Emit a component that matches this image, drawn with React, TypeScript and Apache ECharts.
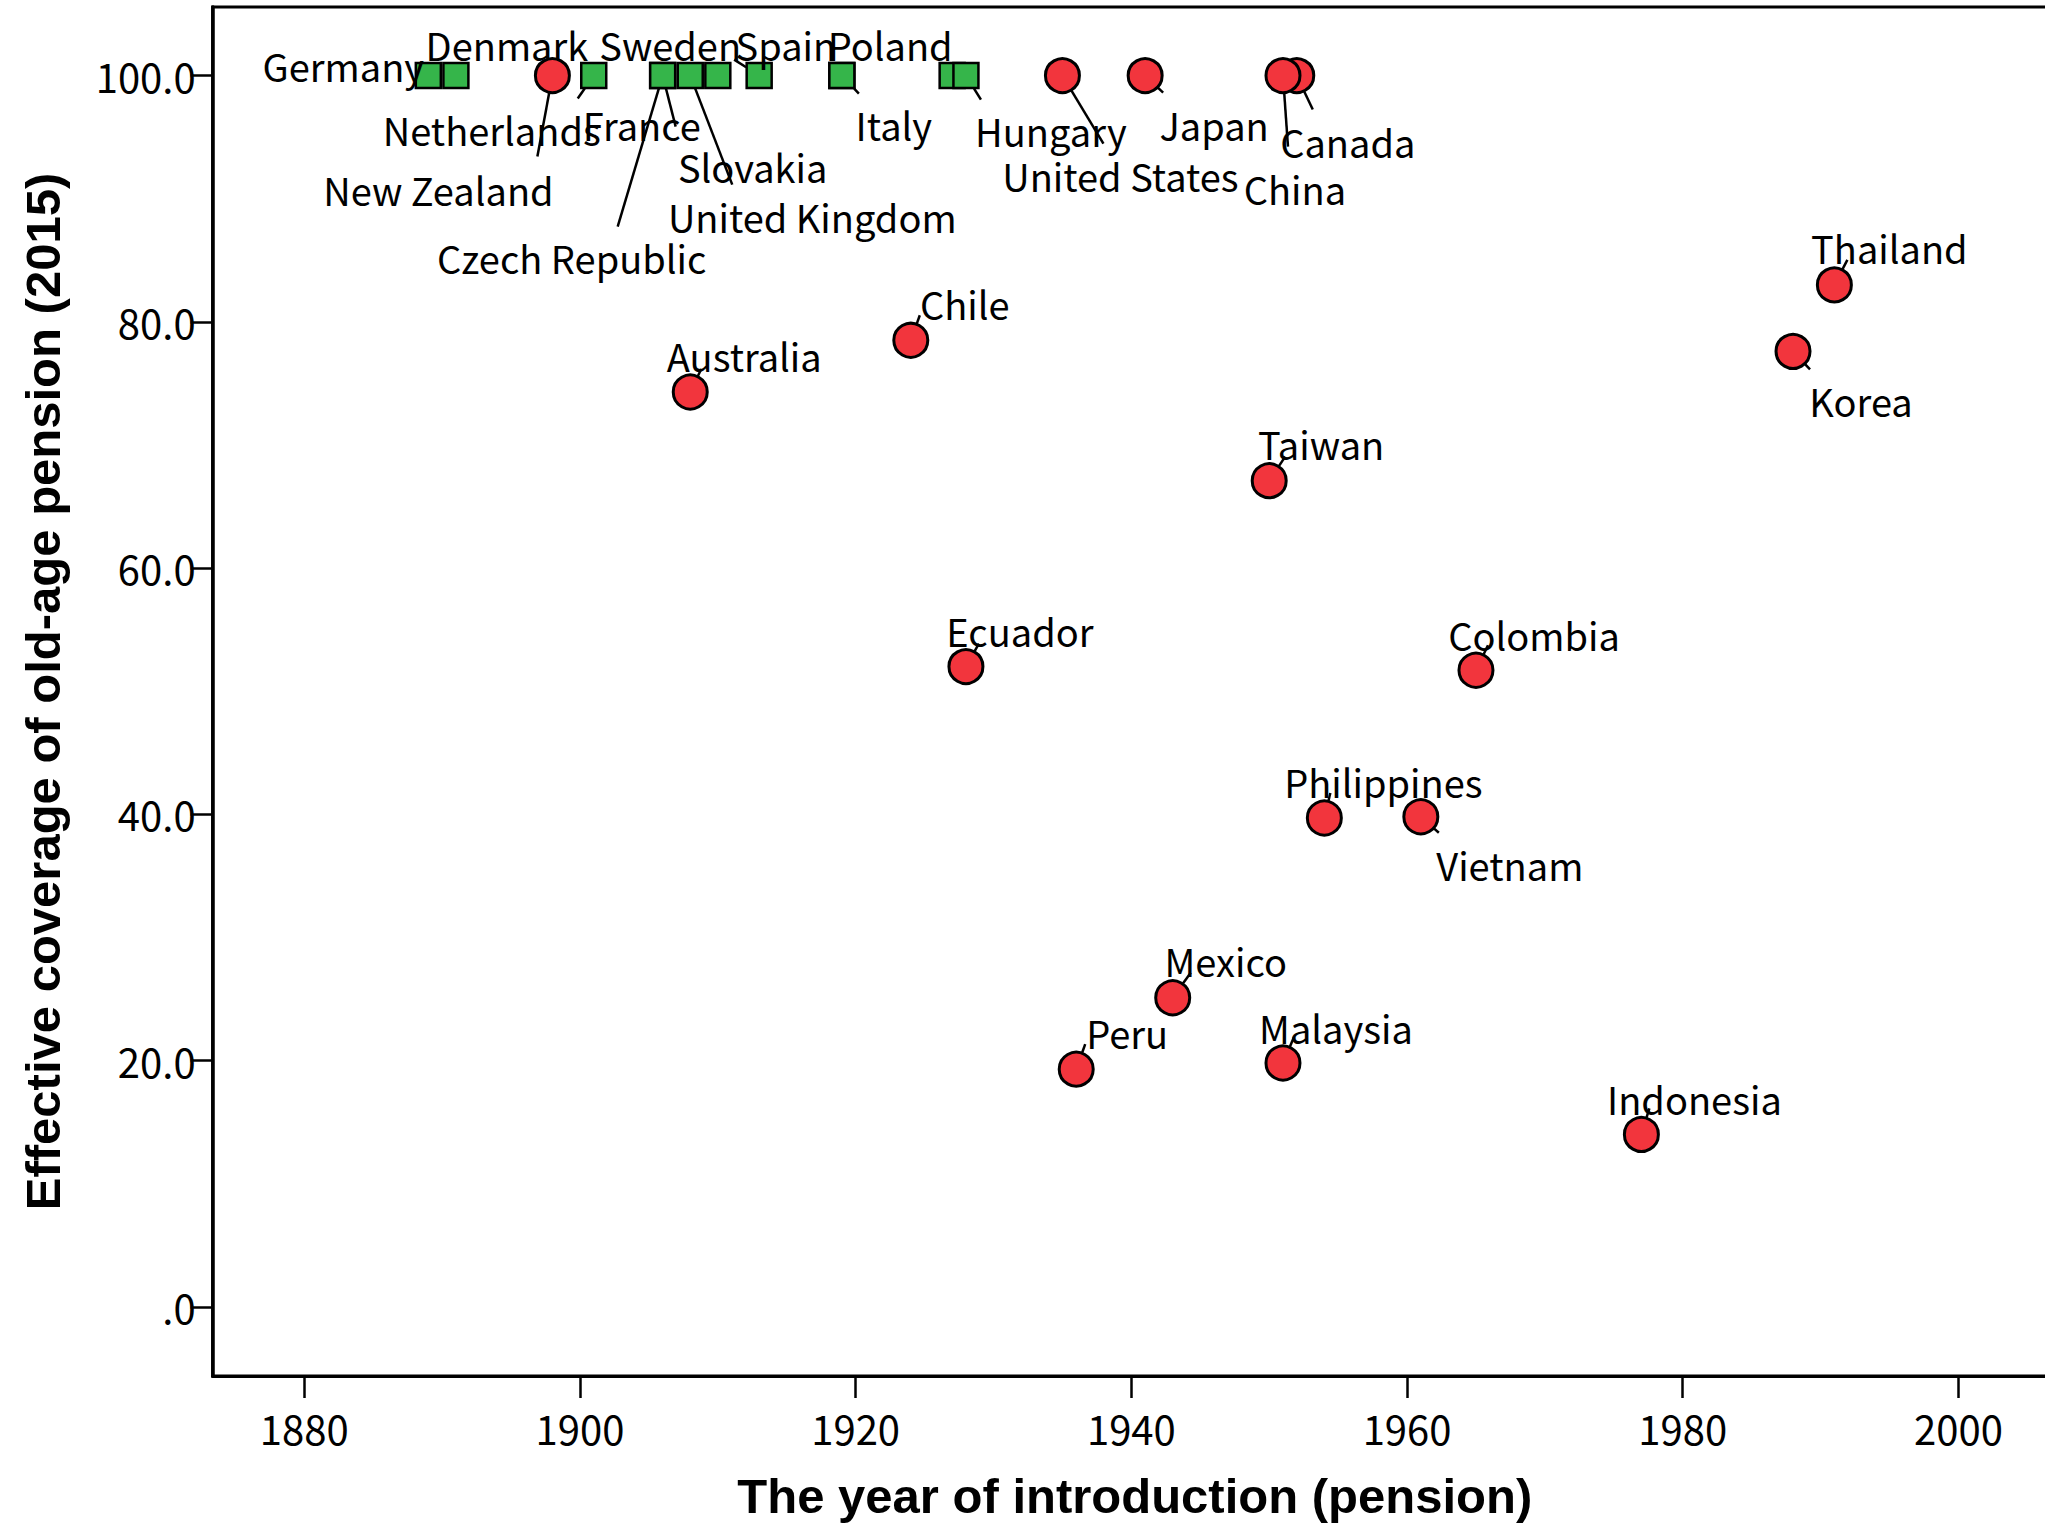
import { useEffect, useRef } from 'react';
import * as echarts from 'echarts';

// ---- Data ----
const SQUARE_COUNTRIES = ['Germany', 'Denmark', 'Netherlands', 'Czech Republic', 'Slovakia', 'United Kingdom', 'France', 'Sweden', 'Spain', 'Italy', 'Poland', 'Hungary'];
const SQUARE_YEARS = [1889, 1891, 1901, 1906, 1906, 1908, 1910, 1913, 1919, 1919, 1927, 1928];
const SQUARE_COVERAGE = [100, 100, 100, 100, 100, 100, 100, 100, 100, 100, 100, 100];

const CIRCLE_COUNTRIES = ['New Zealand', 'United States', 'Japan', 'Canada', 'China', 'Australia', 'Chile', 'Thailand', 'Korea', 'Taiwan', 'Ecuador', 'Colombia', 'Philippines', 'Vietnam', 'Mexico', 'Peru', 'Malaysia', 'Indonesia'];
const CIRCLE_YEARS = [1898, 1935, 1941, 1952, 1951, 1908, 1924, 1991, 1988, 1950, 1928, 1965, 1954, 1961, 1943, 1936, 1951, 1977];
const CIRCLE_COVERAGE = [100, 100, 100, 100, 100, 74.3, 78.5, 83.0, 77.6, 67.1, 52.0, 51.7, 39.7, 39.8, 25.1, 19.3, 19.8, 14.0];

const X_TICKS = [1880, 1900, 1920, 1940, 1960, 1980, 2000];
const Y_TICKS = [0, 20, 40, 60, 80, 100];

// ---- Label placement: pixel offset of label centre from its marker ----
const LABEL_OFFSET: Record<string, [number, number]> = {
  'Germany': [-85, -10],
  'Denmark': [51, -31],
  'Netherlands': [-102, 54],
  'Czech Republic': [-91, 182],
  'Slovakia': [90, 91],
  'United Kingdom': [122, 141],
  'France': [-76, 49],
  'Sweden': [-89, -31],
  'Spain': [-56, -31],
  'Italy': [52, 49],
  'Poland': [-62, -31],
  'Hungary': [85, 55],
  'New Zealand': [-114, 114],
  'United States': [58, 100],
  'Japan': [69, 49],
  'Canada': [51, 66],
  'China': [12, 113],
  'Australia': [54, -37],
  'Chile': [54, -37],
  'Thailand': [55, -37],
  'Korea': [68, 49],
  'Taiwan': [52, -37],
  'Ecuador': [54, -36],
  'Colombia': [58, -36],
  'Philippines': [59, -37],
  'Vietnam': [89, 48],
  'Mexico': [53, -37],
  'Peru': [51, -37],
  'Malaysia': [53, -36],
  'Indonesia': [53, -36],
};

// ---- Leader lines: pixel offset (from marker centre) where the line ends ----
const LINE_END: Record<string, [number, number]> = {
  'Netherlands': [-16, 23],
  'Czech Republic': [-45, 151],
  'Slovakia': [13, 51],
  'United Kingdom': [42, 109],
  'Sweden': [-25, -16],
  'Italy': [17, 18],
  'Hungary': [15, 24],
  'New Zealand': [-15, 81],
  'United States': [41, 68],
  'Japan': [18, 17],
  'Canada': [16, 34],
  'China': [5, 71],
  'Australia': [11, -23],
  'Chile': [9, -25],
  'Thailand': [13, -25],
  'Korea': [17, 18],
  'Taiwan': [16, -24],
  'Ecuador': [13, -23],
  'Colombia': [12, -25],
  'Philippines': [6, -25],
  'Vietnam': [18, 16],
  'Mexico': [18, -25],
  'Peru': [9, -25],
  'Malaysia': [11, -26],
  'Indonesia': [8, -26],
};

const LABEL_FONT = "'Noto Sans CJK JP', 'Noto Sans', sans-serif";
const TITLE_FONT = "'Liberation Sans', Arial, sans-serif";
const SQUARE_HALF = 13;
const CIRCLE_RADIUS = 17.5;

function buildData(names: string[], xs: number[], ys: number[]) {
  return names.map((n, i) => ({ name: n, value: [xs[i], ys[i]] }));
}

function makeLayout(names: string[]) {
  return (params: any) => {
    const off = LABEL_OFFSET[names[params.dataIndex]] || [0, 0];
    const r = params.rect;
    return {
      x: r.x + r.width / 2 + off[0],
      y: r.y + r.height / 2 + off[1],
      align: 'center',
      verticalAlign: 'middle',
    };
  };
}

// leader-line records built from the data arrays
const LEADER_NAMES: string[] = [];
const LEADER_DATA: any[] = [];
SQUARE_COUNTRIES.forEach((n, i) => {
  if (LINE_END[n]) {
    LEADER_NAMES.push(n);
    LEADER_DATA.push({ name: n, value: [SQUARE_YEARS[i], SQUARE_COVERAGE[i], 1] });
  }
});
CIRCLE_COUNTRIES.forEach((n, i) => {
  if (LINE_END[n]) {
    LEADER_NAMES.push(n);
    LEADER_DATA.push({ name: n, value: [CIRCLE_YEARS[i], CIRCLE_COVERAGE[i], 0] });
  }
});

export default function App() {
  const ref = useRef<HTMLDivElement>(null);

  useEffect(() => {
    if (!ref.current) return;
    const chart = echarts.init(ref.current, null, { renderer: 'svg' });

    const labelCommon = {
      show: true,
      position: 'inside',
      formatter: '{b}',
      fontSize: 38,
      fontFamily: LABEL_FONT,
      color: '#000',
    };

    const option: any = {
      animation: false,
      backgroundColor: '#ffffff',
      grid: {
        left: 212.6,
        right: 13,
        top: 7,
        bottom: 149,
        show: true,
        borderColor: '#000',
        borderWidth: 3,
        backgroundColor: 'transparent',
        containLabel: false,
        outerBoundsMode: 'none',
      },
      xAxis: {
        type: 'value',
        min: 1873.35,
        max: 2007.15,
        name: 'The year of introduction (pension)',
        nameLocation: 'middle',
        nameGap: 95,
        nameTextStyle: { fontFamily: TITLE_FONT, fontWeight: 'bold', fontSize: 49, color: '#000' },
        axisLine: { show: true, onZero: false, lineStyle: { color: '#000', width: 3 } },
        axisTick: { show: true, inside: false, length: 22, lineStyle: { color: '#000', width: 2.5 }, customValues: X_TICKS },
        axisLabel: {
          show: true,
          margin: 32,
          fontSize: 40,
          fontFamily: LABEL_FONT,
          color: '#000',
          customValues: X_TICKS,
          formatter: (v: number) => String(v),
        },
        splitLine: { show: false },
      },
      yAxis: {
        type: 'value',
        min: -5.62,
        max: 105.57,
        name: 'Effective coverage of old-age pension (2015)',
        nameLocation: 'middle',
        nameRotate: 90,
        nameGap: 145,
        nameTextStyle: { fontFamily: TITLE_FONT, fontWeight: 'bold', fontSize: 49, color: '#000' },
        axisLine: { show: true, onZero: false, lineStyle: { color: '#000', width: 3.5 } },
        axisTick: { show: true, inside: false, length: 22, lineStyle: { color: '#000', width: 2.5 }, customValues: Y_TICKS },
        axisLabel: {
          show: true,
          margin: 17,
          fontSize: 40,
          fontFamily: LABEL_FONT,
          color: '#000',
          customValues: Y_TICKS,
          formatter: (v: number) => (v === 0 ? '.0' : v.toFixed(1)),
        },
        splitLine: { show: false },
      },
      series: [
        {
          type: 'custom',
          name: 'leaders',
          coordinateSystem: 'cartesian2d',
          silent: true,
          z: 1,
          data: LEADER_DATA,
          encode: { x: 0, y: 1 },
          renderItem: (params: any, api: any) => {
            const name = LEADER_NAMES[params.dataIndex];
            const end = LINE_END[name];
            const c = api.coord([api.value(0), api.value(1)]);
            const isSquare = api.value(2) === 1;
            const len = Math.hypot(end[0], end[1]);
            const ux = end[0] / len;
            const uy = end[1] / len;
            const t = isSquare ? SQUARE_HALF / Math.max(Math.abs(ux), Math.abs(uy)) : CIRCLE_RADIUS;
            return {
              type: 'line',
              shape: { x1: c[0] + ux * t, y1: c[1] + uy * t, x2: c[0] + end[0], y2: c[1] + end[1] },
              style: { stroke: '#000', lineWidth: 2.5 },
            };
          },
        },
        {
          type: 'scatter',
          name: 'European',
          symbol: 'rect',
          symbolSize: 25,
          itemStyle: { color: '#35B54A', borderColor: '#000', borderWidth: 2.5, opacity: 1 },
          data: buildData(SQUARE_COUNTRIES, SQUARE_YEARS, SQUARE_COVERAGE),
          label: labelCommon,
          labelLayout: makeLayout(SQUARE_COUNTRIES),
          emphasis: { disabled: true },
          z: 2,
        },
        {
          type: 'scatter',
          name: 'Other',
          symbol: 'circle',
          symbolSize: 34,
          itemStyle: { color: '#F2353D', borderColor: '#000', borderWidth: 3, opacity: 1 },
          data: buildData(CIRCLE_COUNTRIES, CIRCLE_YEARS, CIRCLE_COVERAGE),
          label: labelCommon,
          labelLayout: makeLayout(CIRCLE_COUNTRIES),
          emphasis: { disabled: true },
          z: 3,
        },
      ],
    };

    chart.setOption(option);
    return () => chart.dispose();
  }, []);

  return (
    <div
      ref={ref}
      style={{ position: 'fixed', left: 0, top: 0, width: 2070, height: 1525, background: '#fff' }}
    />
  );
}
